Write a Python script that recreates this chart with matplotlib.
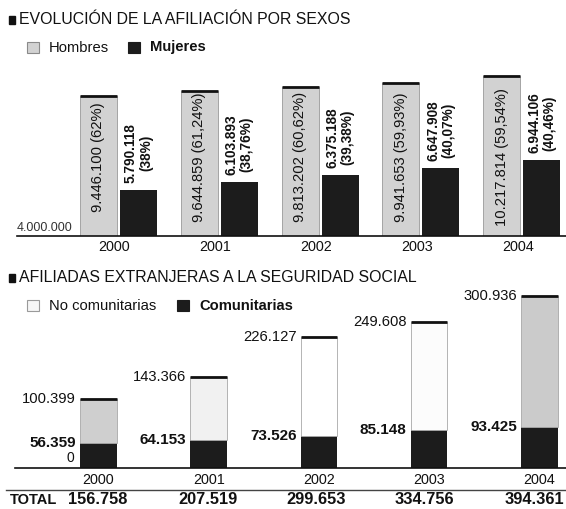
#!/usr/bin/env python3
"""Two stacked newspaper-style bar charts: affiliation by sex and foreign
female affiliates to Social Security (2000-2004)."""

import matplotlib

matplotlib.use("Agg")
import matplotlib.pyplot as plt
from matplotlib.patches import Rectangle

plt.rcParams["font.family"] = ["Liberation Sans", "DejaVu Sans"]

# --- data -------------------------------------------------------------
years = ["2000", "2001", "2002", "2003", "2004"]

hombres = [9446100, 9644859, 9813202, 9941653, 10217814]
hombres_pct = ["62%", "61,24%", "60,62%", "59,93%", "59,54%"]
mujeres = [5790118, 6103893, 6375188, 6647908, 6944106]
mujeres_pct = ["38%", "38,76%", "39,38%", "40,07%", "40,46%"]

comunitarias = [56359, 64153, 73526, 85148, 93425]
no_comunitarias = [100399, 143366, 226127, 249608, 300936]
totales = [156758, 207519, 299653, 334756, 394361]

W, H = 566, 509
INK = "#111111"
GRAY = "#d2d2d2"
DARK = "#1c1c1c"
# the scan shows the non-EU fill fading to white in the middle years
no_com_fill = ["#cfcfcf", "#f1f1f1", "#ffffff", "#fcfcfc", "#cbcbcb"]


def fmt(n):
    return f"{n:,}".replace(",", ".")


def fx(x):
    return x / W


def fy(y):
    return 1 - y / H


def axes_px(fig, left, top, right, bottom):
    return fig.add_axes([fx(left), fy(bottom), (right - left) / W, (bottom - top) / H])


def style_axes(ax):
    for side in ("top", "right", "left"):
        ax.spines[side].set_visible(False)
    ax.spines["bottom"].set_color(INK)
    ax.spines["bottom"].set_linewidth(1.2)
    ax.set_yticks([])
    ax.tick_params(axis="x", length=0, labelsize=10.4, colors=INK)
    ax.patch.set_alpha(0)


def header(fig, y, title, items):
    fig.patches.append(Rectangle((fx(9), fy(y + 4)), 6 / W, 8 / H,
                                 transform=fig.transFigure, color=INK))
    fig.text(fx(19), fy(y), title, fontsize=11.4, color=INK, va="center")
    for x0, label, face, edge, bold in items:
        fig.patches.append(Rectangle((fx(x0), fy(y + 33)), 12 / W, 11 / H,
                                     transform=fig.transFigure, facecolor=face,
                                     edgecolor=edge, lw=0.8))
        fig.text(fx(x0 + 22), fy(y + 27.5), label, fontsize=10.6, color=INK,
                 va="center", fontweight="bold" if bold else "normal")


fig = plt.figure(figsize=(W / 100, H / 100), dpi=100)

# --- top chart: affiliation by sex ------------------------------------
header(fig, 20, "EVOLUCIÓN DE LA AFILIACIÓN POR SEXOS",
       [(27, "Hombres", GRAY, "#8a8a8a", False),
        (128, "Mujeres", DARK, DARK, True)])

ax1 = axes_px(fig, 17, 60, 566, 236)
step1 = 100.8
base = 4_000_000
ax1.set_xlim((17 - 118.5) / step1, (566 - 118.5) / step1)
ax1.set_ylim(base, base + (236 - 60) / 25.7 * 1e6)
bw = 37 / step1
off = 20 / step1
xs = list(range(len(years)))

for i in xs:
    xh = i - off
    xm = i + off
    ax1.bar(xh, hombres[i] - base, bottom=base, width=bw, color=GRAY,
            edgecolor="#9a9a9a", lw=0.6)
    ax1.plot([xh - bw / 2, xh + bw / 2], [hombres[i]] * 2, color=INK, lw=2,
             solid_capstyle="butt")
    ax1.bar(xm, mujeres[i] - base, bottom=base, width=bw, color=DARK, lw=0)
    ax1.text(xh, 7.07e6, f"{fmt(hombres[i])} ({hombres_pct[i]})", rotation=90,
             ha="center", va="center", fontsize=10.6, color=INK)
    ax1.annotate(f"{fmt(mujeres[i])}\n({mujeres_pct[i]})", xy=(xm, mujeres[i]),
                 xytext=(0, 5), textcoords="offset points", rotation=90,
                 ha="center", va="bottom", multialignment="center",
                 fontsize=9.8, fontweight="bold", color=INK, linespacing=1.1)

ax1.text(0.0, 0.012, "4.000.000", transform=ax1.transAxes, ha="left",
         va="bottom", fontsize=9, color="#333333")
ax1.set_xticks([i - 0.04 for i in xs], years)
ax1.tick_params(axis="x", pad=3)
style_axes(ax1)

# --- bottom chart: foreign female affiliates --------------------------
header(fig, 278, "AFILIADAS EXTRANJERAS A LA SEGURIDAD SOCIAL",
       [(27, "No comunitarias", "#f6f6f6", "#9a9a9a", False),
        (177, "Comunitarias", DARK, DARK, True)])

ax2 = axes_px(fig, 15, 285, 566, 467.5)
step2 = 110.2
ax2.set_xlim((15 - 98.5) / step2, (566 - 98.5) / step2)
ax2.set_ylim(0, (467.5 - 285) / 0.4349 * 1000)
bw2 = 36.5 / step2

for i in xs:
    ax2.bar(i, comunitarias[i], width=bw2, color=DARK, lw=0)
    ax2.bar(i, no_comunitarias[i], bottom=comunitarias[i], width=bw2,
            color=no_com_fill[i], edgecolor="#a8a8a8", lw=0.6)
    top = comunitarias[i] + no_comunitarias[i]
    ax2.plot([i - bw2 / 2, i + bw2 / 2], [top, top], color=INK, lw=2,
             solid_capstyle="butt")
    ax2.annotate(fmt(no_comunitarias[i]), xy=(i - bw2 / 2, top), xytext=(-3, 0),
                 textcoords="offset points", ha="right", va="center",
                 fontsize=10.6, color=INK)
    ax2.annotate(fmt(comunitarias[i]), xy=(i - bw2 / 2, comunitarias[i]),
                 xytext=(-3, 0), textcoords="offset points", ha="right",
                 va="center", fontsize=11, fontweight="bold", color=INK)

ax2.annotate("0", xy=(-bw2 / 2, 0), xytext=(-4, 2), textcoords="offset points",
             ha="right", va="bottom", fontsize=10, color=INK)
ax2.set_xticks(xs, years)
ax2.tick_params(axis="x", pad=4)
style_axes(ax2)

# totals row under a rule
fig.add_artist(plt.Line2D([fx(6), fx(566)], [fy(490), fy(490)],
                          transform=fig.transFigure, color="#444444", lw=1))
fig.text(fx(10), fy(500), "TOTAL", fontsize=10.5, fontweight="bold",
         color=INK, va="center")
total_x = [98, 208, 316, 424, 534]
for i in xs:
    fig.text(fx(total_x[i]), fy(500), fmt(totales[i]), fontsize=11.8,
             fontweight="bold", color=INK, ha="center", va="center")

fig.savefig("out.png", dpi=100)
plt.close(fig)
